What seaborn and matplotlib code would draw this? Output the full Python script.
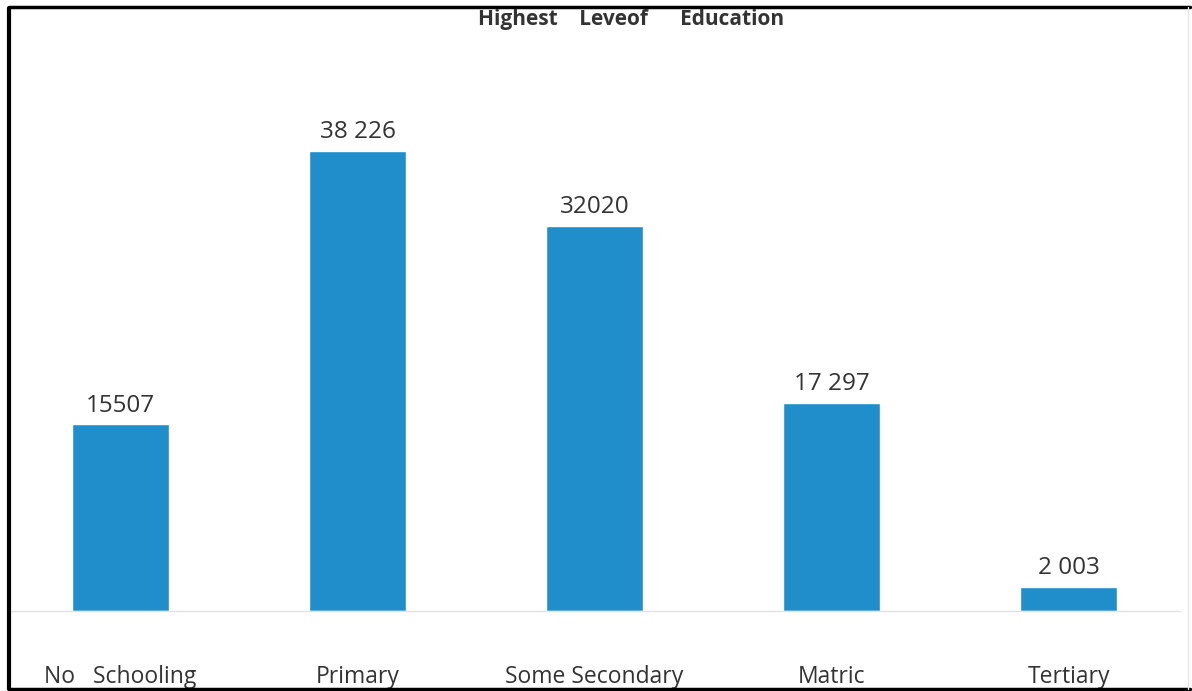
import matplotlib
matplotlib.use("Agg")
from matplotlib import pyplot as plt
from matplotlib.lines import Line2D
import seaborn as sns
import pandas as pd

categories = ["No   Schooling", "Primary", "Some Secondary", "Matric", "Tertiary"]
counts = [15507, 38226, 32020, 17297, 2003]
value_labels = ["15507", "38 226", "32020", "17 297", "2 003"]
title = "Highest    Leveof      Education"

bar_color = "#1f8ecb"
text_color = "#333333"

sns.set_style("white")
plt.rcParams['font.family'] = ['Open Sans', 'DejaVu Sans']

df = pd.DataFrame({"category": categories, "count": counts})

fig = plt.figure(figsize=(11.92, 6.91), dpi=100)
ax = fig.add_axes([10 / 1192, 80 / 691, 1170 / 1192, 591 / 691])

sns.barplot(data=df, x="category", y="count", color=bar_color, width=0.41,
            saturation=1, ax=ax)

ax.set_xlim(-0.466, 4.47)
ax.set_ylim(0, 49130)

for i, (v, lab) in enumerate(zip(counts, value_labels)):
    ax.annotate(lab, (i, v), xytext=(0, 5), textcoords="offset points",
                ha="center", va="bottom", fontsize=17.5, color=text_color)

ax.set_xlabel("")
ax.set_ylabel("")
ax.set_yticks([])
ax.tick_params(axis="x", length=0, pad=39, labelsize=16.5, labelcolor=text_color)
for s in ["top", "left", "right"]:
    ax.spines[s].set_visible(False)
ax.spines["bottom"].set_color("#e2e2e2")
ax.spines["bottom"].set_linewidth(1)

fig.text(631 / 1192, 1 - 20 / 691, title, ha="center", va="center",
         fontsize=15, fontweight="bold", color=text_color)

# page frame from the scanned figure
W, H = 1192, 691
frame = [((9, 9), (8, 689), "black", 3),
         ((9, 1190), (7, 7), "black", 2.5),
         ((9, 1190), (689, 689), "black", 2.5),
         ((1188, 1188), (7, 689), "#e6e6e6", 1)]
for xs, ys, c, lw in frame:
    fig.add_artist(Line2D([x / W for x in xs], [1 - y / H for y in ys],
                          transform=fig.transFigure, color=c, linewidth=lw))

fig.savefig("out.png", dpi=100)
plt.close(fig)
